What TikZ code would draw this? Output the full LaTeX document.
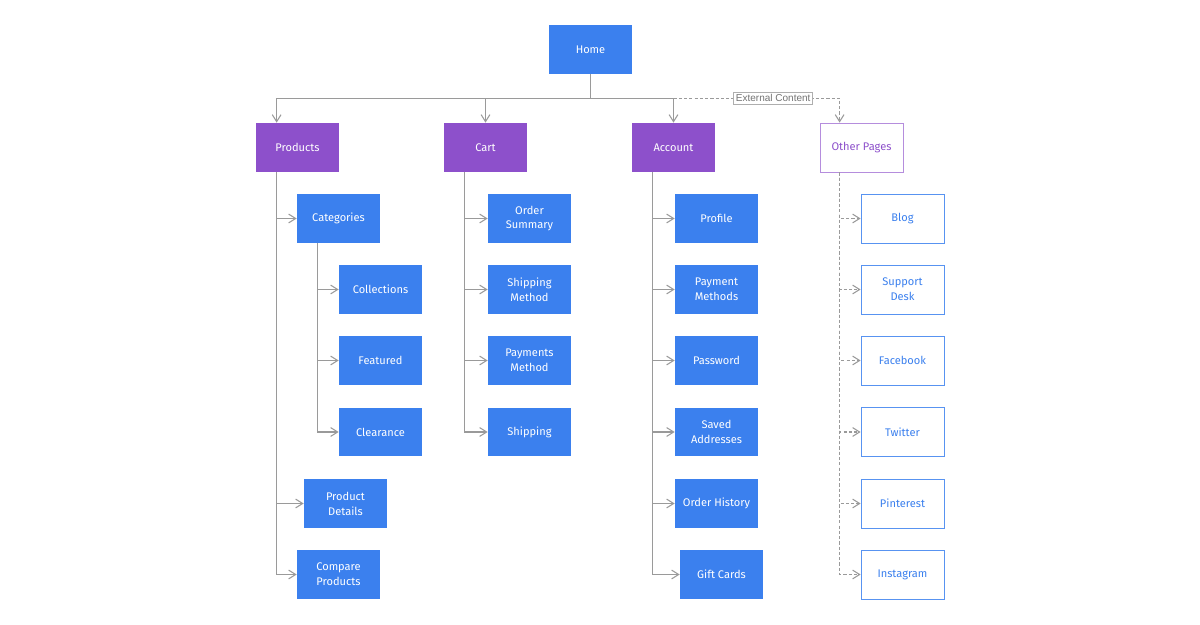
\documentclass[tikz,border=0pt]{standalone}
\usepackage{fontspec}
\setmainfont{Fira Sans}
\newfontfamily\labelfont{Liberation Sans}
\usepackage{xcolor}
\usepackage{tikz}
\usetikzlibrary{arrows.meta}

\definecolor{pageblue}{HTML}{3B80EE}
\definecolor{secpurple}{HTML}{8D50CB}
\definecolor{linegray}{HTML}{9A9A9A}

\tikzset{
    box/.style={minimum width=1.66cm,minimum height=0.98cm,inner sep=1pt,align=center,
        font=\fontsize{6.3}{8.5}\selectfont},
    page/.style={box,fill=pageblue,text=white},
    section/.style={box,fill=secpurple,text=white},
    extpage/.style={box,draw=pageblue!85,fill=white,text=pageblue,line width=0.45pt},
    extsection/.style={box,draw=secpurple!65,fill=white,text=secpurple,line width=0.45pt},
    link/.style={draw=linegray,line width=0.6pt,-{Straight Barb[length=4pt,width=5pt]}},
    dlink/.style={link,dash pattern=on 1.8pt off 1.2pt},
    extlabel/.style={solid,draw=linegray!80,fill=white,text=black!55,inner sep=1.2pt,
        font=\labelfont\fontsize{5.7}{6.5}\selectfont}
}

\begin{document}
\begin{tikzpicture}[x=0.02cm,y=-0.02cm]
    \useasboundingbox (0,0) rectangle (1200,625);
    % top level
    \node[page] (home) at (590.5,49.5) {Home};
    \node[section] (products) at (297.5,147.5) {Products};
    \node[section] (cart) at (485.5,147.5) {Cart};
    \node[section] (account) at (673.5,147.5) {Account};
    \node[extsection] (other) at (861.5,147.5) {Other Pages};
    % products
    \node[page] (categories) at (338.5,218.5) {Categories};
    \node[page] (collections) at (380.5,289.5) {Collections};
    \node[page] (featured) at (380.5,360.5) {Featured};
    \node[page] (clearance) at (380.5,432) {Clearance};
    \node[page] (details) at (345.5,503.5) {Product\\Details};
    \node[page] (compare) at (338.5,574.5) {Compare\\Products};
    % cart
    \node[page] (summary) at (529.5,218.5) {Order\\Summary};
    \node[page] (shipmethod) at (529.5,289.5) {Shipping\\Method};
    \node[page] (paymethod) at (529.5,360.5) {Payments\\Method};
    \node[page] (shipping) at (529.5,432) {Shipping};
    % account
    \node[page] (profile) at (716.5,218.5) {Profile};
    \node[page] (paymethods) at (716.5,289.5) {Payment\\Methods};
    \node[page] (password) at (716.5,360.5) {Password};
    \node[page] (addresses) at (716.5,432) {Saved\\Addresses};
    \node[page] (history) at (716.5,503.5) {Order History};
    \node[page] (giftcards) at (721.5,574.5) {Gift Cards};
    % other pages
    \node[extpage] (blog) at (902.5,218.5) {Blog};
    \node[extpage] (support) at (902.5,289.5) {Support\\Desk};
    \node[extpage] (facebook) at (902.5,360.5) {Facebook};
    \node[extpage] (twitter) at (902.5,432) {Twitter};
    \node[extpage] (pinterest) at (902.5,503.5) {Pinterest};
    \node[extpage] (instagram) at (902.5,574.5) {Instagram};

    \coordinate (hub) at ([yshift=-0.48cm]home.south);
    \draw[draw=linegray,line width=0.6pt] (home.south) -- (hub);
    \draw[link] (hub) -| ([xshift=0.42cm]products.north west);
    \draw[link] (hub) -| (cart.north);
    \draw[link] (hub) -| (account.north);
    \draw[dlink] (hub -| account.north) -| ([xshift=0.4cm]other.north west)
        node[extlabel,pos=0.3] (ext) {External Content};

    \foreach \child in {categories,details,compare}
        \draw[link] ([xshift=0.42cm]products.south west) |- (\child.west);
    \foreach \child in {collections,featured,clearance}
        \draw[link] ([xshift=0.42cm]categories.south west) |- (\child.west);
    \foreach \child in {summary,shipmethod,paymethod,shipping}
        \draw[link] ([xshift=0.42cm]cart.south west) |- (\child.west);
    \foreach \child in {profile,paymethods,password,addresses,history,giftcards}
        \draw[link] ([xshift=0.42cm]account.south west) |- (\child.west);
    \foreach \child in {blog,support,facebook,twitter,pinterest,instagram}
        \draw[dlink] ([xshift=0.4cm]other.south west) |- (\child.west);
\end{tikzpicture}
\end{document}
